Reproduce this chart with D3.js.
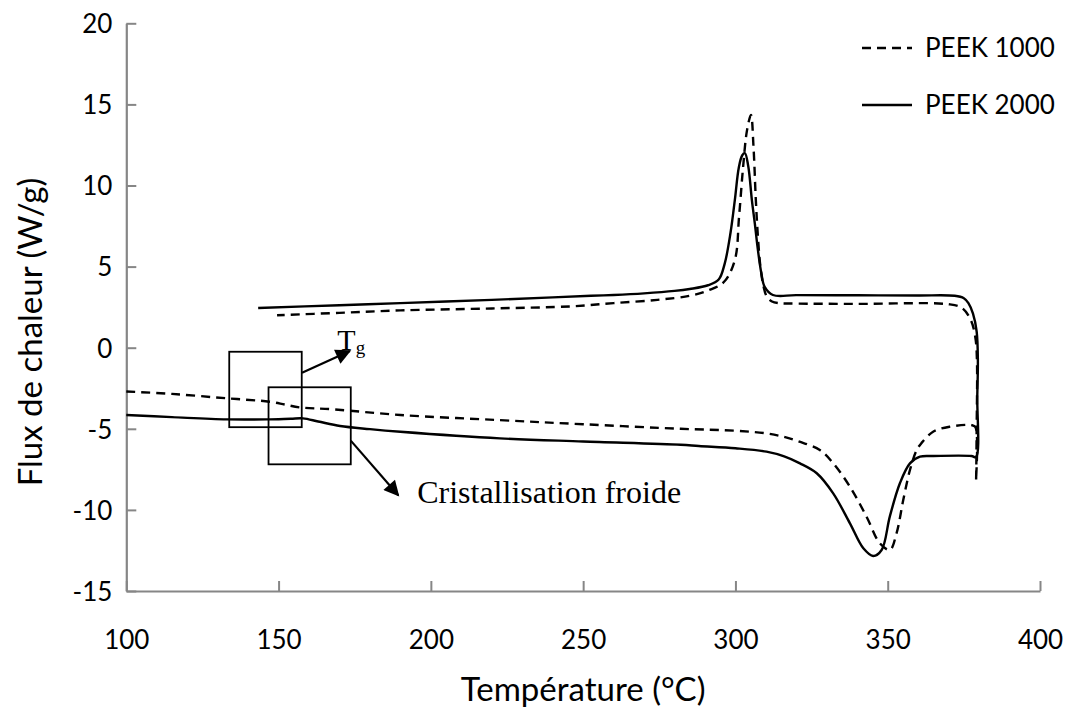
<!DOCTYPE html>
<html>
<head>
<meta charset="utf-8">
<script src="https://cdn.jsdelivr.net/npm/d3@7"></script>
<style>
  html, body { margin: 0; padding: 0; background: #fff; }
  svg { display: block; }
</style>
</head>
<body>
<svg id="chart" width="1070" height="709"></svg>
<script>
// ---------- data ----------
const xTicks = [100, 150, 200, 250, 300, 350, 400];
const yTicks = [-15, -10, -5, 0, 5, 10, 15, 20];
const seriesNames = ["PEEK 1000", "PEEK 2000"];

// PEEK 1000 (dashed): heating run (lower curve), then cooling run (upper curve)
const peek1000Heating = [
  [100, -2.7], [115, -2.85], [133, -3.12], [147, -3.33], [152, -3.5], [157, -3.68],
  [168, -3.8], [190, -4.15], [222, -4.46], [250, -4.72], [282, -5.0], [300, -5.12],
  [310, -5.28], [316, -5.5], [321, -5.79], [327.7, -6.31], [332, -7.1], [337.6, -8.57],
  [343, -10.4], [347.4, -12.05], [350.7, -12.47], [352.9, -11.44], [355.1, -9.39],
  [357.3, -7.54], [359.5, -6.31], [361, -5.9], [364.9, -5.18], [370.4, -4.87],
  [377.5, -4.77], [378.8, -4.9], [379.0, -8.2]
];
const peek1000Cooling = [
  [379.2, -5.0], [379.3, -0.8], [378.8, 0.6], [377.3, 1.7], [374.4, 2.45], [370, 2.68],
  [340, 2.7], [320, 2.72], [314, 2.75], [312, 2.85], [310.3, 3.15], [309.2, 3.8],
  [308.2, 5.0], [307.4, 6.8], [306.7, 9.1], [305.9, 12.5], [305.1, 14.35], [303.8, 13.4],
  [302.5, 11.1], [301.2, 8.1], [299.8, 5.4], [296.2, 4.05], [291.3, 3.55], [285, 3.2],
  [274.4, 2.95], [260, 2.75], [246.2, 2.55], [220, 2.42], [190, 2.3], [170, 2.15], [149.5, 2.0]
];

// PEEK 2000 (solid)
const peek2000Heating = [
  [100, -4.15], [115, -4.28], [133, -4.42], [146, -4.42], [154, -4.38], [158, -4.36],
  [163, -4.55], [170.2, -4.83], [180, -5.02], [190, -5.18], [222.7, -5.59], [250, -5.78],
  [282, -5.98], [288, -6.06], [300, -6.2], [310.2, -6.41], [316, -6.7], [321.2, -7.13],
  [326.7, -7.74], [332.1, -8.98], [337.6, -10.83], [342, -12.37], [345.2, -12.84],
  [348, -12.47], [350.7, -10.4], [354, -8.36], [357.3, -7.13], [360.6, -6.72],
  [364.9, -6.68], [377.5, -6.68], [379, -6.75]
];
const peek2000Cooling = [
  [379.4, -3.0], [379.6, -0.75], [379.2, 1.0], [378, 2.1], [376.5, 2.75], [375, 3.05],
  [372, 3.2], [360, 3.22], [340, 3.23], [320, 3.24], [312.3, 3.25], [309.6, 3.75],
  [308.5, 4.6], [307.4, 6.0], [306.4, 7.6], [305.4, 9.1], [304.2, 11.2], [303.1, 12.0],
  [302.2, 11.85], [301.1, 11.1], [299.8, 9.1], [298.4, 7.1], [296.5, 5.2], [294.5, 4.2],
  [291, 3.85], [285, 3.62], [280, 3.5], [270, 3.35], [260, 3.25], [252.6, 3.2],
  [240, 3.1], [220, 2.95], [190, 2.75], [170, 2.62], [143.3, 2.45]
];

// annotations (data units)
const tgBox = { t0: 133.8, t1: 157.6, v0: -0.25, v1: -4.9 };
const ccBox = { t0: 146.7, t1: 173.7, v0: -2.44, v1: -7.19 };
const tgArrow = [[157.7, -1.55], [173.4, -0.2]];
const ccArrow = [[173.7, -5.73], [189.3, -9.1]];
const tgLabelPos = [169.3, -0.15];
const ccLabelPos = [195.5, -9.6];

// ---------- drawing ----------
const svg = d3.select("#chart");
const x = d3.scaleLinear().domain([100, 400]).range([126.3, 1040]);
const y = d3.scaleLinear().domain([-15, 20]).range([591, 23.3]);
const axisColor = "#868686";
const tickFont = "Lato, 'Open Sans', sans-serif";
const fmt = d => String(d);

// axes
const xAxis = svg.append("g").attr("transform", `translate(0,${y(-15)})`)
  .call(d3.axisBottom(x).tickValues(xTicks).tickSizeInner(-10).tickSizeOuter(0).tickPadding(49).tickFormat(fmt));
const yAxis = svg.append("g").attr("transform", `translate(${x(100)},0)`)
  .call(d3.axisLeft(y).tickValues(yTicks).tickSizeInner(-10).tickSizeOuter(0).tickPadding(14).tickFormat(fmt));
[xAxis, yAxis].forEach(g => {
  g.select(".domain").attr("stroke", axisColor).attr("stroke-width", 2.2);
  g.selectAll(".tick line").attr("stroke", axisColor).attr("stroke-width", 2);
  g.selectAll(".tick text").attr("fill", "#000").style("font-family", tickFont).style("font-size", "26px");
});
yAxis.selectAll(".tick text").attr("dy", "0.36em");
xAxis.selectAll(".tick text").attr("dy", "0.36em");

// axis titles
svg.append("text")
  .attr("x", x(250)).attr("y", 701)
  .attr("text-anchor", "middle")
  .style("font-family", tickFont).style("font-size", "33px")
  .text("Température (°C)");
svg.append("text")
  .attr("transform", `translate(42,${332}) rotate(-90)`)
  .attr("text-anchor", "middle")
  .style("font-family", tickFont).style("font-size", "33px")
  .text("Flux de chaleur (W/g)");

// curves
const line = d3.line().x(d => x(d[0])).y(d => y(d[1])).curve(d3.curveCatmullRom.alpha(0.5));
const series = [
  { name: seriesNames[0], pts: peek1000Heating.concat(peek1000Cooling), dash: "9,6" },
  { name: seriesNames[1], pts: peek2000Heating.concat(peek2000Cooling), dash: null }
];
svg.append("g").selectAll("path").data(series).join("path")
  .attr("d", d => line(d.pts))
  .attr("fill", "none").attr("stroke", "#000").attr("stroke-width", 2.4)
  .attr("stroke-dasharray", d => d.dash)
  .attr("stroke-linejoin", "round");

// legend
const legend = svg.append("g");
series.forEach((s, i) => {
  const ly = 48 + i * 57;
  legend.append("line").attr("x1", 862).attr("x2", 912).attr("y1", ly).attr("y2", ly)
    .attr("stroke", "#000").attr("stroke-width", 2.4).attr("stroke-dasharray", s.dash);
  legend.append("text").attr("x", 925).attr("y", ly).attr("dy", "0.36em")
    .style("font-family", tickFont).style("font-size", "26px").text(s.name);
});

// annotations
svg.append("defs").append("marker")
  .attr("id", "arrowhead").attr("viewBox", "0 0 10 10").attr("refX", 9).attr("refY", 5)
  .attr("markerWidth", 8).attr("markerHeight", 7).attr("markerUnits", "strokeWidth")
  .attr("orient", "auto")
  .append("path").attr("d", "M0,0 L10,5 L0,10 z").attr("fill", "#000");

[tgBox, ccBox].forEach(b => {
  svg.append("rect")
    .attr("x", x(b.t0)).attr("y", y(b.v0))
    .attr("width", x(b.t1) - x(b.t0)).attr("height", y(b.v1) - y(b.v0))
    .attr("fill", "none").attr("stroke", "#000").attr("stroke-width", 1.8);
});
[tgArrow, ccArrow].forEach(a => {
  svg.append("line")
    .attr("x1", x(a[0][0])).attr("y1", y(a[0][1]))
    .attr("x2", x(a[1][0])).attr("y2", y(a[1][1]))
    .attr("stroke", "#000").attr("stroke-width", 2.2)
    .attr("marker-end", "url(#arrowhead)");
});
const serif = "'Liberation Serif', 'DejaVu Serif', serif";
const tg = svg.append("text").attr("x", x(tgLabelPos[0])).attr("y", y(tgLabelPos[1]))
  .style("font-family", serif).style("font-size", "30px");
tg.append("tspan").text("T");
tg.append("tspan").attr("dy", "0.22em").style("font-size", "19px").text("g");
svg.append("text").attr("x", x(ccLabelPos[0])).attr("y", y(ccLabelPos[1]))
  .style("font-family", serif).style("font-size", "32px")
  .text("Cristallisation froide");
</script>
</body>
</html>
